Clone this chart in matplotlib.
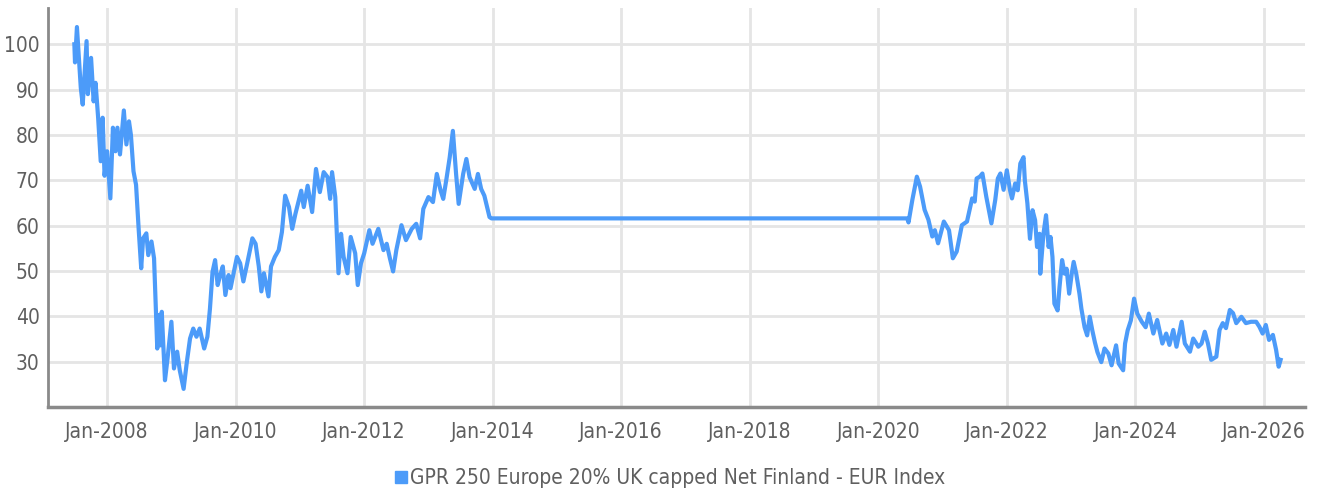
import matplotlib
matplotlib.use("Agg")
import matplotlib.pyplot as plt
from matplotlib import font_manager
import numpy as np

# index values (x = decimal year)
years = [
    2007.49, 2007.50, 2007.53, 2007.56, 2007.59, 2007.62, 2007.68, 2007.70, 2007.75,
    2007.79, 2007.82, 2007.86, 2007.90, 2007.93, 2007.96, 2008.00, 2008.05, 2008.09,
    2008.13, 2008.16, 2008.20, 2008.26, 2008.30, 2008.34, 2008.37, 2008.41, 2008.45,
    2008.49, 2008.53, 2008.56, 2008.61, 2008.64, 2008.69, 2008.73, 2008.78, 2008.81,
    2008.83, 2008.85, 2008.90, 2008.94, 2009.00, 2009.04, 2009.09, 2009.13, 2009.19,
    2009.24, 2009.29, 2009.34, 2009.39, 2009.44, 2009.51, 2009.56, 2009.60, 2009.64,
    2009.68, 2009.72, 2009.76, 2009.80, 2009.84, 2009.89, 2009.92, 2010.02, 2010.07,
    2010.12, 2010.18, 2010.26, 2010.31, 2010.36, 2010.40, 2010.44, 2010.51, 2010.55,
    2010.61, 2010.67, 2010.72, 2010.77, 2010.83, 2010.88, 2010.93, 2011.02, 2011.06,
    2011.12, 2011.19, 2011.25, 2011.31, 2011.37, 2011.43, 2011.47, 2011.50, 2011.55,
    2011.60, 2011.64, 2011.68, 2011.74, 2011.79, 2011.86, 2011.90, 2011.95, 2012.00,
    2012.08, 2012.13, 2012.22, 2012.30, 2012.35, 2012.40, 2012.45, 2012.50, 2012.58,
    2012.65, 2012.74, 2012.81, 2012.87, 2012.92, 2013.00, 2013.07, 2013.13, 2013.19,
    2013.23, 2013.28, 2013.33, 2013.38, 2013.43, 2013.47, 2013.54, 2013.59, 2013.64,
    2013.72, 2013.77, 2013.82, 2013.87, 2013.95, 2013.98,
    2020.45, 2020.47, 2020.53, 2020.60, 2020.65, 2020.72, 2020.78, 2020.84, 2020.88,
    2020.93, 2021.02, 2021.10, 2021.16, 2021.22, 2021.30, 2021.38, 2021.46, 2021.50,
    2021.53, 2021.58, 2021.62, 2021.68, 2021.76, 2021.82, 2021.86, 2021.90, 2021.95,
    2022.00, 2022.05, 2022.08, 2022.13, 2022.17, 2022.21, 2022.26, 2022.28, 2022.32,
    2022.36, 2022.40, 2022.44, 2022.47, 2022.51, 2022.52, 2022.57, 2022.61, 2022.65,
    2022.68, 2022.71, 2022.74, 2022.79, 2022.82, 2022.86, 2022.90, 2022.93, 2022.97,
    2023.01, 2023.04, 2023.08, 2023.13, 2023.16, 2023.21, 2023.25, 2023.29, 2023.33,
    2023.37, 2023.41, 2023.47, 2023.52, 2023.58, 2023.63, 2023.70, 2023.74, 2023.81,
    2023.84, 2023.88, 2023.93, 2023.98, 2024.03, 2024.10, 2024.16, 2024.21,
    2024.28, 2024.34, 2024.42,
    2024.48, 2024.53, 2024.59, 2024.64, 2024.72, 2024.77, 2024.85, 2024.90, 2024.98,
    2025.03, 2025.08, 2025.13, 2025.18, 2025.26, 2025.31, 2025.36, 2025.41, 2025.47,
    2025.52, 2025.57, 2025.65, 2025.72, 2025.80, 2025.88, 2025.93, 2025.98, 2026.03,
    2026.08, 2026.14, 2026.19, 2026.23, 2026.26,
]
values = [
    100.0, 96.0, 103.8, 97.0, 90.4, 86.7, 100.7, 89.0, 97.0,
    87.4, 91.5, 83.8, 74.2, 83.8, 71.0, 76.4, 66.0, 81.6,
    76.4, 81.6, 75.7, 85.4, 77.9, 83.0, 80.0, 72.0, 69.0,
    59.4, 50.6, 57.2, 58.3, 53.5, 56.5, 52.8, 32.9, 40.3,
    33.6, 41.0, 25.9, 30.7, 38.8, 28.5, 32.2, 28.1, 24.0,
    29.9, 35.1, 37.3, 35.5, 37.3, 32.9, 35.5, 41.7, 49.8,
    52.4, 46.9, 49.1, 51.0, 44.7, 49.1, 46.2, 53.1, 51.7,
    47.7, 51.7, 57.2, 56.0, 51.0, 45.5, 49.5, 44.4, 51.0,
    53.1, 54.6, 58.6, 66.6, 64.1, 59.3, 62.6, 67.7, 64.1,
    68.8, 63.0, 72.5, 67.4, 71.8, 70.7, 65.9, 71.8, 66.3,
    49.5, 58.2, 53.1, 49.5, 57.5, 53.9, 46.9, 51.7, 53.9,
    59.0, 56.0, 59.3, 54.6, 56.0, 52.8, 49.9, 54.6, 60.1,
    56.8, 59.3, 60.4, 57.2, 63.7, 66.3, 65.2, 71.4, 67.7,
    65.9, 70.3, 75.0, 80.9, 71.4, 64.8, 71.4, 74.7, 70.7,
    68.1, 71.4, 68.1, 66.6, 61.9, 61.6,
    61.6, 60.7, 65.7, 70.8, 68.6, 63.5, 61.3, 57.6, 59.0,
    56.1, 60.9, 59.0, 52.8, 54.3, 60.1, 60.9, 66.0, 65.3,
    70.4, 70.8, 71.5, 66.4, 60.5, 65.7, 70.4, 71.5, 67.9,
    72.2, 67.8, 66.0, 69.3, 67.8, 73.7, 75.1, 70.0, 64.9,
    57.1, 63.4, 61.2, 55.3, 58.2, 49.4, 58.2, 62.3, 55.3,
    57.5, 53.1, 42.8, 41.3, 46.5, 52.4, 49.4, 50.5, 45.0,
    49.4, 52.0, 49.4, 45.0, 41.7, 37.6, 35.8, 39.9, 36.9,
    34.3, 32.1, 29.9, 32.9, 31.8, 29.2, 33.6, 29.6, 28.1,
    34.0, 36.9, 39.1, 43.9, 40.6, 38.8, 37.6, 40.6,
    36.2, 39.2, 34.0,
    36.2, 33.7, 37.0, 33.3, 38.8, 34.0, 32.2, 35.1, 33.3,
    34.0, 36.6, 34.0, 30.4, 31.1, 37.0, 38.5, 37.4, 41.4,
    40.7, 38.5, 39.9, 38.5, 38.8, 38.8, 37.7, 36.2, 38.1,
    34.8, 35.9, 32.6, 28.9, 30.4,
]
series_name = "GPR 250 Europe 20% UK capped Net Finland - EUR Index"

tick_years = [2008, 2010, 2012, 2014, 2016, 2018, 2020, 2022, 2024, 2026]
tick_labels = ["Jan-%d" % y for y in tick_years]
y_ticks = [30, 40, 50, 60, 70, 80, 90, 100]

# narrow face if there is one, else Roboto
condensed = [f for f in font_manager.fontManager.ttflist
             if f.name == 'DejaVu Sans' and f.stretch == 'condensed']
if condensed:
    plt.rcParams['font.family'] = ['DejaVu Sans']
    plt.rcParams['font.stretch'] = 'condensed'
    fs = 15
else:
    plt.rcParams['font.family'] = ['Roboto', 'DejaVu Sans']
    fs = 15.5

fig = plt.figure(figsize=(13.19, 4.93), dpi=100)
ax = fig.add_axes([0.0364, 0.1744, 0.953, 0.8094])

line_color = '#4c9bf9'
ax.plot(years, values, color=line_color, lw=3, solid_joinstyle='round',
        label=series_name)

ax.set_xlim(2007.08, 2026.64)
ax.set_ylim(20, 108)
ax.set_xticks(tick_years)
ax.set_xticklabels(tick_labels)
ax.set_yticks(y_ticks)

ax.grid(True, color='#e5e5e5', lw=2)
ax.set_axisbelow(True)
ax.tick_params(length=0, labelsize=fs, labelcolor='#5f5f5f')
ax.tick_params(axis='x', pad=11)
ax.tick_params(axis='y', pad=6)

for s in ['top', 'right']:
    ax.spines[s].set_visible(False)
ax.spines['left'].set_color('#8a8a8a')
ax.spines['left'].set_linewidth(2)
ax.spines['bottom'].set_color('#8a8a8a')
ax.spines['bottom'].set_linewidth(2.5)

handle = plt.Line2D([], [], marker='s', color=line_color, ls='none', markersize=8)
fig.legend([handle], [series_name], loc='center', bbox_to_anchor=(0.507, 0.03),
           frameon=False, fontsize=fs, handletextpad=0.05, handlelength=0.8,
           labelcolor='#5f5f5f')

fig.savefig('out.png', dpi=100)
